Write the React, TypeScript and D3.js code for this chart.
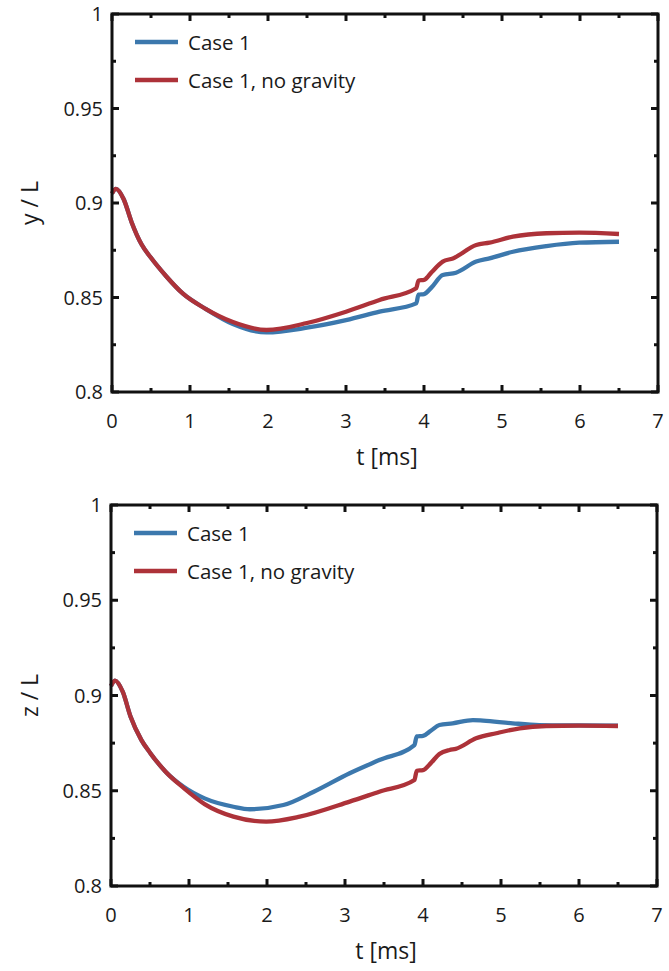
import React from "react";
import * as d3 from "d3";

// ---- data ----
const tA = [0, 0.05, 0.15, 0.25, 0.38, 0.5, 0.7, 0.91, 1.2, 1.55, 1.98, 2.5, 3.0, 3.43, 3.9, 3.93, 4.0, 4.1, 4.24, 4.41, 4.67, 4.84, 5.14, 5.57, 5.99, 6.5];
const yCase1 = [0.905, 0.9075, 0.902, 0.89, 0.878, 0.871, 0.861, 0.852, 0.844, 0.836, 0.8315, 0.834, 0.838, 0.8425, 0.8469, 0.8515, 0.8518, 0.8555, 0.8619, 0.8631, 0.869, 0.8707, 0.8742, 0.8772, 0.879, 0.8795];
const tR = [0, 0.05, 0.15, 0.25, 0.38, 0.5, 0.7, 0.91, 1.2, 1.55, 1.98, 2.5, 3.0, 3.43, 3.9, 3.93, 4.0, 4.1, 4.24, 4.37, 4.67, 4.84, 5.14, 5.57, 5.99, 6.5];
const yNoGrav = [0.905, 0.9075, 0.902, 0.89, 0.878, 0.871, 0.861, 0.852, 0.844, 0.837, 0.8328, 0.8365, 0.8425, 0.8487, 0.8549, 0.859, 0.8593, 0.8635, 0.869, 0.8707, 0.8778, 0.879, 0.8822, 0.884, 0.8843, 0.8836];

const tB = [0, 0.05, 0.15, 0.25, 0.39, 0.5, 0.7, 0.93, 1.2, 1.57, 1.78, 2.21, 2.6, 3.06, 3.44, 3.89, 3.92, 4.0, 4.1, 4.21, 4.38, 4.64, 4.77, 5.15, 5.49, 6.0, 6.5];
const zCase1 = [0.905, 0.9078, 0.902, 0.889, 0.8766, 0.87, 0.86, 0.8521, 0.846, 0.8416, 0.8403, 0.8425, 0.8495, 0.8592, 0.8661, 0.874, 0.8785, 0.8788, 0.8815, 0.8845, 0.8854, 0.8871, 0.8868, 0.8854, 0.8845, 0.8843, 0.8842];
const tC = [0, 0.05, 0.15, 0.25, 0.39, 0.5, 0.7, 0.93, 1.2, 1.57, 1.99, 2.42, 3.06, 3.44, 3.89, 3.92, 4.0, 4.1, 4.21, 4.34, 4.42, 4.68, 4.94, 5.24, 5.58, 6.0, 6.5];
const zNoGrav = [0.905, 0.9078, 0.902, 0.889, 0.8766, 0.87, 0.86, 0.8515, 0.843, 0.8364, 0.8338, 0.8364, 0.8443, 0.8495, 0.8556, 0.8605, 0.8608, 0.8645, 0.8693, 0.8714, 0.872, 0.8775, 0.8802, 0.8828, 0.884, 0.8842, 0.884];

const xTicks = [0, 1, 2, 3, 4, 5, 6, 7];
const xMinor = [0.5, 1.5, 2.5, 3.5, 4.5, 5.5, 6.5];
const yTicks = [0.8, 0.85, 0.9, 0.95, 1];
const yMinor = [0.825, 0.875, 0.925, 0.975];
const legendLabels = ["Case 1", "Case 1, no gravity"];

const BLUE = "#3c78ad";
const RED = "#ad3239";
const INK = "#1a1a1a";
const FONT = "'Open Sans', 'Noto Sans', sans-serif";

type PanelProps = {
  top: number;
  bottom: number;
  left: number;
  right: number;
  ylab: string;
  s1: [number[], number[]];
  s2: [number[], number[]];
};

function Panel({ top, bottom, left, right, ylab, s1, s2 }: PanelProps) {
  const x = d3.scaleLinear().domain([0, 7]).range([left, right]);
  const y = d3.scaleLinear().domain([0.8, 1]).range([bottom, top]);
  const mk = (ts: number[], vs: number[]) =>
    d3
      .line<number>()
      .x((_, i) => x(ts[i]))
      .y((v) => y(v))
      .curve(d3.curveMonotoneX)(vs) as string;
  const major = 7;
  const minor = 4;
  const sw = 3;
  return (
    <g>
      <path d={mk(s1[0], s1[1])} fill="none" stroke={BLUE} strokeWidth={4.3} strokeLinejoin="round" />
      <path d={mk(s2[0], s2[1])} fill="none" stroke={RED} strokeWidth={4.3} strokeLinejoin="round" />
      <rect x={left} y={top} width={right - left} height={bottom - top} fill="none" stroke="#111" strokeWidth={sw} />
      {xTicks.map((t) => (
        <g key={"xt" + t}>
          <line x1={x(t)} x2={x(t)} y1={bottom} y2={bottom - major} stroke="#111" strokeWidth={sw} />
          <line x1={x(t)} x2={x(t)} y1={top} y2={top + major} stroke="#111" strokeWidth={sw} />
          <text x={x(t)} y={bottom + 36} textAnchor="middle" fontSize={20} fontFamily={FONT} fill={INK}>
            {t}
          </text>
        </g>
      ))}
      {xMinor.map((t) => (
        <g key={"xm" + t}>
          <line x1={x(t)} x2={x(t)} y1={bottom} y2={bottom - minor} stroke="#111" strokeWidth={sw} />
          <line x1={x(t)} x2={x(t)} y1={top} y2={top + minor} stroke="#111" strokeWidth={sw} />
        </g>
      ))}
      {yTicks.map((v) => (
        <g key={"yt" + v}>
          <line x1={left} x2={left + major} y1={y(v)} y2={y(v)} stroke="#111" strokeWidth={sw} />
          <line x1={right} x2={right - major} y1={y(v)} y2={y(v)} stroke="#111" strokeWidth={sw} />
          <text x={left - 9} y={y(v) + 7} textAnchor="end" fontSize={20} fontFamily={FONT} fill={INK}>
            {String(v)}
          </text>
        </g>
      ))}
      {yMinor.map((v) => (
        <g key={"ym" + v}>
          <line x1={left} x2={left + minor} y1={y(v)} y2={y(v)} stroke="#111" strokeWidth={sw} />
          <line x1={right} x2={right - minor} y1={y(v)} y2={y(v)} stroke="#111" strokeWidth={sw} />
        </g>
      ))}
      <text x={(left + right) / 2 + 2} y={bottom + 73} textAnchor="middle" fontSize={23} fontFamily={FONT} fill={INK}>
        t [ms]
      </text>
      <text
        transform={`translate(${38},${(top + bottom) / 2}) rotate(-90)`}
        textAnchor="middle"
        fontSize={23}
        fontFamily={FONT}
        fill={INK}
      >
        {ylab}
      </text>
      {legendLabels.map((lab, i) => (
        <g key={lab}>
          <line
            x1={left + 23}
            x2={left + 66}
            y1={top + 28 + i * 38}
            y2={top + 28 + i * 38}
            stroke={i === 0 ? BLUE : RED}
            strokeWidth={4.3}
          />
          <text x={left + 76} y={top + 36 + i * 38} fontSize={20.5} fontFamily={FONT} fill={INK}>
            {lab}
          </text>
        </g>
      ))}
    </g>
  );
}

export default function App() {
  return (
    <svg width={669} height={971} style={{ position: "absolute", left: 0, top: 0, background: "#fff" }}>
      <rect width={669} height={971} fill="#fff" />
      <Panel top={14} bottom={392} left={112} right={658} ylab="y / L" s1={[tA, yCase1]} s2={[tR, yNoGrav]} />
      <Panel top={505} bottom={886} left={111} right={657} ylab="z / L" s1={[tB, zCase1]} s2={[tC, zNoGrav]} />
    </svg>
  );
}
